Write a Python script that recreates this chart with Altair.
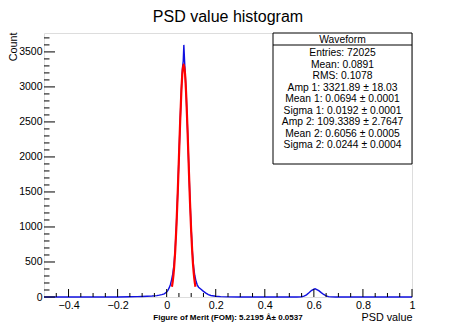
import altair as alt
import pandas as pd

# ---- data ----
hist_x = [-0.5, -0.25, -0.2, -0.15, -0.12, -0.1, -0.08, -0.06, -0.04, -0.03, -0.02, -0.01,
          0.0, 0.005, 0.01, 0.015, 0.02, 0.025, 0.03, 0.035, 0.04, 0.045, 0.05, 0.055,
          0.06, 0.0625, 0.065, 0.0675, 0.07, 0.0725, 0.075, 0.0775, 0.08, 0.085, 0.09,
          0.095, 0.1, 0.105, 0.11, 0.115, 0.12, 0.125, 0.13, 0.14, 0.15, 0.16, 0.17,
          0.18, 0.2, 0.22, 0.25, 0.3, 0.53, 0.55, 0.56, 0.57, 0.58, 0.59, 0.6, 0.605,
          0.61, 0.62, 0.63, 0.64, 0.65, 0.66, 0.67, 0.69, 1.0]
hist_counts = [0, 0, 1, 3, 5, 7, 10, 14, 20, 26, 34, 45,
               70, 95, 130, 175, 245, 335, 470, 700, 1050, 1490, 2000, 2510,
               2960, 3150, 3290, 3370, 3600, 3410, 3230, 3050, 2860, 2400, 1890,
               1390, 970, 640, 420, 300, 220, 170, 140, 110, 80, 55, 35,
               22, 10, 5, 2, 0, 0, 3, 12, 30, 60, 92, 112, 118,
               110, 90, 62, 36, 16, 6, 2, 0, 0]

fit_x = [0.0214, 0.025, 0.03, 0.035, 0.04, 0.045, 0.05, 0.055, 0.06, 0.065, 0.0694,
         0.075, 0.08, 0.085, 0.09, 0.095, 0.1, 0.105, 0.11, 0.115, 0.1174]
fit_counts = [146, 229, 404, 667, 1028, 1480, 1993, 2507, 2946, 3236, 3322,
              3183, 2852, 2387, 1866, 1365, 933, 595, 355, 198, 146]

x_major_ticks = [-0.4, -0.2, 0.0, 0.2, 0.4, 0.6, 0.8, 1.0]
x_minor_ticks = [-0.45, -0.35, -0.3, -0.25, -0.15, -0.1, -0.05, 0.05, 0.1, 0.15, 0.25,
                 0.3, 0.35, 0.45, 0.5, 0.55, 0.65, 0.7, 0.75, 0.85, 0.9, 0.95]
y_major_ticks = [0, 500, 1000, 1500, 2000, 2500, 3000, 3500]
y_minor_ticks = [v for v in range(100, 3800, 100) if v % 500 != 0]

title_text = "PSD value histogram"
stats_header = "Waveform"
stats_lines = [
    "Entries: 72025",
    "Mean: 0.0891",
    "RMS: 0.1078",
    "Amp 1: 3321.89 \u00b1 18.03",
    "Mean 1: 0.0694 \u00b1 0.0001",
    "Sigma 1: 0.0192 \u00b1 0.0001",
    "Amp 2: 109.3389 \u00b1 2.7647",
    "Mean 2: 0.6056 \u00b1 0.0005",
    "Sigma 2: 0.0244 \u00b1 0.0004",
]
fom_text = "Figure of Merit (FOM): 5.2195 \u00c2\u00b1 0.0537"

# ---- layout ----
W, H = 368, 264
FONT = "Liberation Sans"
XDOM = [-0.5, 1.0]
YDOM = [0, 3770]

hist_df = pd.DataFrame({"x": hist_x, "y": hist_counts})
fit_df = pd.DataFrame({"x": fit_x, "y": fit_counts})
one = pd.DataFrame({"a": [0]})

xscale = alt.Scale(domain=XDOM, nice=False, zero=False)
yscale = alt.Scale(domain=YDOM, nice=False)

x_axis = alt.Axis(values=x_major_ticks, format=".1~f", ticks=False, domain=False,
                  grid=False, labelFont=FONT, labelFontSize=10.8, labelColor="black",
                  labelPadding=2, labelFlush=False, labelOverlap=False,
                  title="PSD value", titleFont=FONT, titleFontSize=10.8,
                  titleFontWeight="normal", titleColor="black",
                  titleX=W, titleY=23, titleAlign="right", titleBaseline="alphabetic")
y_axis = alt.Axis(values=y_major_ticks, format="d", ticks=False, domain=False,
                  grid=False, labelFont=FONT, labelFontSize=10.5, labelColor="black",
                  labelPadding=2, labelFlush=False, labelOverlap=False,
                  title="Count", titleFont=FONT, titleFontSize=10.8,
                  titleFontWeight="normal", titleColor="black",
                  titleAngle=270, titleX=-26, titleY=-1, titleAlign="right",
                  titleBaseline="bottom")


def X():
    return alt.X("x:Q", scale=xscale, axis=x_axis)


def Y():
    return alt.Y("y:Q", scale=yscale, axis=y_axis)


hist = alt.Chart(hist_df).mark_line(color="#1010e0", strokeWidth=1.4).encode(x=X(), y=Y())

fit = alt.Chart(fit_df).mark_line(color="#ff0000", strokeWidth=2.2,
                                  interpolate="monotone").encode(x=X(), y=Y())

xmaj = alt.Chart(pd.DataFrame({"x": x_major_ticks})).mark_rule(
    color="black", strokeWidth=1).encode(x=X(), y=alt.value(H), y2=alt.value(H - 8))
xmin = alt.Chart(pd.DataFrame({"x": x_minor_ticks})).mark_rule(
    color="black", strokeWidth=1).encode(x=X(), y=alt.value(H), y2=alt.value(H - 4))
ymaj = alt.Chart(pd.DataFrame({"y": y_major_ticks})).mark_rule(
    color="black", strokeWidth=1).encode(y=Y(), x=alt.value(0), x2=alt.value(11))
ymin = alt.Chart(pd.DataFrame({"y": y_minor_ticks})).mark_rule(
    color="black", strokeWidth=1).encode(y=Y(), x=alt.value(0), x2=alt.value(5.5))

# stats box
BX0, BX1, BY0, BY1 = 229, W, 0, 131
box = alt.Chart(one).mark_rect(fill="white", stroke="black", strokeWidth=1).encode(
    x=alt.value(BX0), x2=alt.value(BX1), y=alt.value(BY0), y2=alt.value(BY1))
sep = alt.Chart(one).mark_rule(color="black", strokeWidth=1).encode(
    x=alt.value(BX0), x2=alt.value(BX1), y=alt.value(12))
cx = (BX0 + BX1) / 2
texts = [alt.Chart(one).mark_text(font=FONT, fontSize=10.3, color="black",
                                  baseline="middle", align="center").encode(
    x=alt.value(cx), y=alt.value(6.5), text=alt.value(stats_header))]
for i, line in enumerate(stats_lines):
    texts.append(alt.Chart(one).mark_text(font=FONT, fontSize=10.3, color="black",
                                          baseline="middle", align="center").encode(
        x=alt.value(cx), y=alt.value(20.3 + i * 11.46), text=alt.value(line)))

fom = alt.Chart(one).mark_text(font=FONT, fontSize=8, fontWeight="bold", color="black",
                               baseline="alphabetic", align="center").encode(
    x=alt.value(184), y=alt.value(287), text=alt.value(fom_text))

title = alt.Chart(one).mark_text(font=FONT, fontSize=16, color="black",
                                 baseline="alphabetic", align="center").encode(
    x=alt.value(W / 2), y=alt.value(-11), text=alt.value(title_text))

chart = alt.layer(hist, fit, xmaj, xmin, ymaj, ymin, box, sep, *texts, fom, title).properties(
    width=W, height=H,
    autosize=alt.AutoSizeParams(type="none"),
    padding={"left": 36, "top": 25, "right": 30, "bottom": 30},
).configure_view(stroke="black", strokeWidth=1).configure(background="white")

chart.save("out.html", embed_options={"renderer": "svg", "actions": False})
